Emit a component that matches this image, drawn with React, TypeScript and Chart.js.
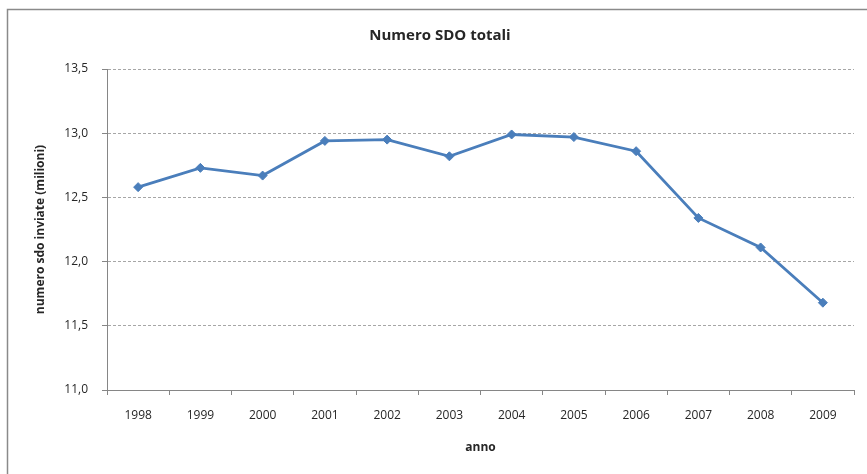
import { useEffect, useRef } from "react";
import { Chart, registerables } from "chart.js";

Chart.register(...registerables);

// Annual totals of SDO forms sent, in millions
const years: string[] = ["1998", "1999", "2000", "2001", "2002", "2003", "2004", "2005", "2006", "2007", "2008", "2009"];
const sdoTotals: number[] = [12.58, 12.73, 12.67, 12.94, 12.95, 12.82, 12.99, 12.97, 12.86, 12.34, 12.11, 11.68];

const yMin = 11;
const yMax = 13.5;
const yStep = 0.5;

const lineColor = "#4A7EBB";
const textColor = "#262626";
const axisColor = "#868686";
const gridColor = "#A6A6A6";
const fontFamily = "'Open Sans', 'Liberation Sans', sans-serif";

// Frame drawn around the whole chart
const framePlugin = {
  id: "frame",
  beforeDraw(chart: Chart) {
    const ctx = chart.ctx;
    ctx.save();
    ctx.fillStyle = "#ffffff";
    ctx.fillRect(0, 0, chart.width, chart.height);
    ctx.strokeStyle = "#8A8A8A";
    ctx.lineWidth = 1.5;
    ctx.strokeRect(7.5, 9.5, chart.width + 20, chart.height + 20);
    ctx.restore();
  },
};

export default function App() {
  const canvasRef = useRef<HTMLCanvasElement | null>(null);

  useEffect(() => {
    const canvas = canvasRef.current;
    if (!canvas) return;
    const chart = new Chart(canvas, {
      type: "line",
      data: {
        labels: years,
        datasets: [
          {
            label: "Numero SDO",
            data: sdoTotals,
            borderColor: lineColor,
            backgroundColor: lineColor,
            borderWidth: 2.8,
            pointStyle: "rectRot",
            pointRadius: 4.5,
            pointBorderWidth: 1,
            pointBackgroundColor: lineColor,
            pointBorderColor: lineColor,
            tension: 0,
          },
        ],
      },
      options: {
        responsive: false,
        animation: false,
        layout: { padding: { left: 26, top: 0, right: 13, bottom: 0 } },
        plugins: {
          legend: { display: false },
          tooltip: { enabled: false },
          title: {
            display: true,
            text: "Numero SDO totali",
            color: textColor,
            font: { family: fontFamily, size: 15, weight: "bold" },
            padding: { top: 27, bottom: 24 },
          },
        },
        scales: {
          x: {
            type: "category",
            offset: true,
            grid: {
              display: true,
              offset: true,
              drawOnChartArea: false,
              drawTicks: true,
              tickLength: 5,
              tickColor: axisColor,
              color: axisColor,
            },
            border: { display: true, color: axisColor, width: 1 },
            ticks: {
              color: textColor,
              font: { family: fontFamily, size: 12 },
              padding: 13,
              maxRotation: 0,
            },
            title: {
              display: true,
              text: "anno",
              color: textColor,
              font: { family: fontFamily, size: 12, weight: "bold" },
              padding: { top: 0, bottom: 19 },
            },
            afterFit(scale: any) {
              scale.height = 84;
            },
          },
          y: {
            min: yMin,
            max: yMax,
            grid: {
              color: gridColor,
              lineWidth: 1,
              drawTicks: true,
              tickLength: 5,
              tickColor: axisColor,
            },
            border: { display: true, color: axisColor, width: 1, dash: [3, 2] },
            ticks: {
              stepSize: yStep,
              color: textColor,
              font: { family: fontFamily, size: 12 },
              padding: 14,
              callback: (v: any) => Number(v).toFixed(1).replace(".", ","),
            },
            title: {
              display: true,
              text: "numero sdo inviate (milioni)",
              color: textColor,
              font: { family: fontFamily, size: 12, weight: "bold" },
              padding: { top: 7, bottom: 0 },
            },
            afterFit(scale: any) {
              scale.width = 81;
            },
          },
        },
      },
      plugins: [framePlugin],
    });
    return () => chart.destroy();
  }, []);

  return (
    <div style={{ position: "absolute", left: 0, top: 0, width: 867, height: 474, background: "#fff" }}>
      <canvas ref={canvasRef} width={867} height={474} style={{ display: "block" }} />
    </div>
  );
}
